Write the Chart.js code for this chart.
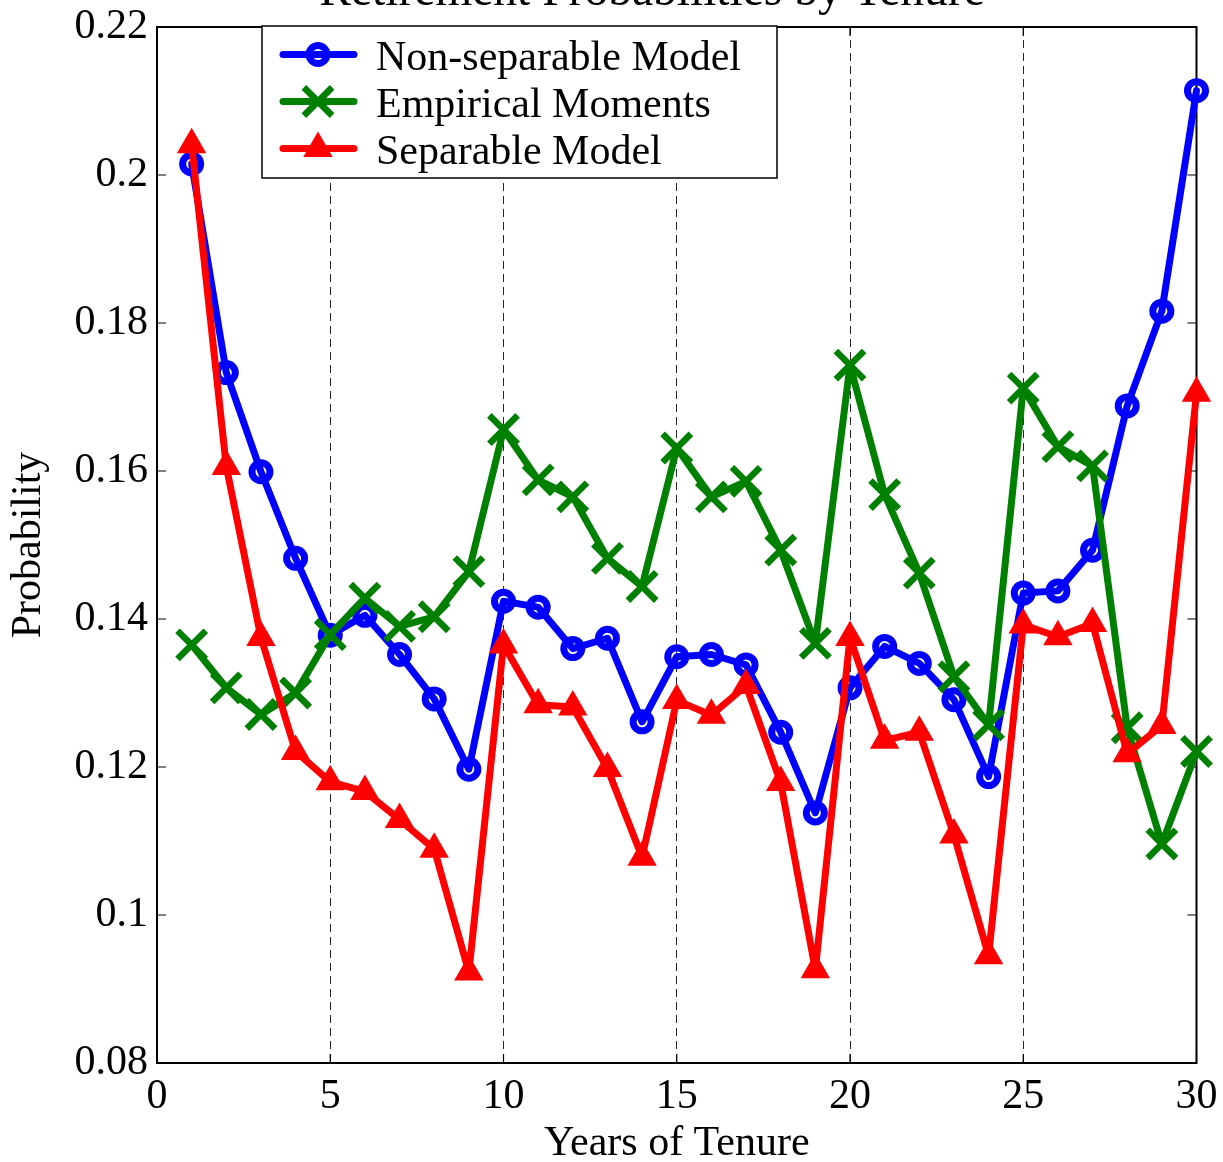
<!DOCTYPE html>
<html>
<head>
<meta charset="utf-8">
<title>Retirement Probabilities by Tenure</title>
<script src="https://cdn.jsdelivr.net/npm/chart.js@4.4.1/dist/chart.umd.min.js"></script>
<style>
  html, body { margin: 0; padding: 0; background: #fff; }
  #wrap { position: relative; width: 1223px; height: 1162px; }
</style>
</head>
<body>
<div id="wrap"><canvas id="chart"></canvas></div>
<script>
const years = [1, 2, 3, 4, 5, 6, 7, 8, 9, 10, 11, 12, 13, 14, 15,
  16, 17, 18, 19, 20, 21, 22, 23, 24, 25, 26, 27, 28, 29, 30];
const nonSeparable = [0.2015, 0.1733, 0.1599, 0.1482, 0.1378, 0.1405, 0.1352, 0.1292, 0.1197, 0.1424,
  0.1416, 0.1360, 0.1374, 0.1261, 0.1349, 0.1352, 0.1338, 0.1247, 0.1138, 0.1307,
  0.1363, 0.1340, 0.1291, 0.1187, 0.1435, 0.1438, 0.1493, 0.1688, 0.1816, 0.2114];
const empirical = [0.1365, 0.1307, 0.1271, 0.1300, 0.1379, 0.1428, 0.1390, 0.1403, 0.1464, 0.1656,
  0.1588, 0.1565, 0.1482, 0.1444, 0.1631, 0.1565, 0.1586, 0.1493, 0.1367, 0.1743,
  0.1568, 0.1462, 0.1322, 0.1257, 0.1712, 0.1633, 0.1607, 0.1253, 0.1096, 0.1221];
const separable = [0.2041, 0.1606, 0.1375, 0.1221, 0.1180, 0.1167, 0.1129, 0.1089, 0.0923, 0.1365,
  0.1284, 0.1281, 0.1198, 0.1078, 0.1290, 0.1270, 0.1310, 0.1179, 0.0926, 0.1375,
  0.1236, 0.1247, 0.1108, 0.0945, 0.1392, 0.1376, 0.1394, 0.1218, 0.1256, 0.1705];
const xTicks = [0, 5, 10, 15, 20, 25, 30];
const yTicks = [0.08, 0.1, 0.12, 0.14, 0.16, 0.18, 0.2, 0.22];

const serif = "'Liberation Serif', 'Times New Roman', serif";
const toPoints = vals => vals.map((v, i) => ({ x: years[i], y: v }));

// matlab look: closed box, ticks pointing inwards
const axesBox = {
  id: 'axesBox',
  beforeDatasetsDraw(chart) {
    const { ctx, chartArea: a, scales: { x, y } } = chart;
    ctx.save();
    ctx.strokeStyle = '#000';
    ctx.lineWidth = 1.2;
    ctx.beginPath();
    xTicks.forEach(t => {
      const px = x.getPixelForValue(t);
      ctx.moveTo(px, a.bottom); ctx.lineTo(px, a.bottom - 9);
      ctx.moveTo(px, a.top); ctx.lineTo(px, a.top + 9);
    });
    yTicks.forEach(t => {
      const py = y.getPixelForValue(t);
      ctx.moveTo(a.left, py); ctx.lineTo(a.left + 9, py);
      ctx.moveTo(a.right, py); ctx.lineTo(a.right - 9, py);
    });
    ctx.stroke();
    ctx.lineWidth = 2;
    ctx.strokeRect(a.left, a.top, a.right - a.left, a.bottom - a.top);
    ctx.restore();
  }
};

function drawMarker(ctx, ds, x, y) {
  ctx.strokeStyle = ds.borderColor;
  ctx.fillStyle = ds.borderColor;
  ctx.lineWidth = ds.pointBorderWidth;
  const r = ds.pointRadius;
  ctx.beginPath();
  if (ds.pointStyle === 'circle') {
    ctx.arc(x, y, r, 0, Math.PI * 2);
    ctx.stroke();
  } else if (ds.pointStyle === 'crossRot') {
    const d = r * Math.SQRT1_2;
    ctx.moveTo(x - d, y - d); ctx.lineTo(x + d, y + d);
    ctx.moveTo(x + d, y - d); ctx.lineTo(x - d, y + d);
    ctx.stroke();
  } else {
    ctx.moveTo(x, y - r);
    ctx.lineTo(x + r * 0.866, y + r / 2);
    ctx.lineTo(x - r * 0.866, y + r / 2);
    ctx.closePath();
    ctx.fill();
    ctx.stroke();
  }
}

const boxLegend = {
  id: 'boxLegend',
  afterDraw(chart) {
    const ctx = chart.ctx;
    const left = 262, top = 26, w = 515, h = 152;
    ctx.save();
    ctx.fillStyle = '#fff';
    ctx.fillRect(left, top, w, h);
    ctx.strokeStyle = '#000';
    ctx.lineWidth = 1.5;
    ctx.strokeRect(left, top, w, h);
    chart.data.datasets.forEach((ds, i) => {
      const rowY = 54.5 + i * 47;
      ctx.lineCap = 'round';
      ctx.strokeStyle = ds.borderColor;
      ctx.lineWidth = ds.borderWidth;
      ctx.beginPath();
      ctx.moveTo(283, rowY); ctx.lineTo(354, rowY);
      ctx.stroke();
      ctx.lineCap = 'butt';
      drawMarker(ctx, ds, 318, rowY);
      ctx.fillStyle = '#000';
      ctx.font = '42px ' + serif;
      ctx.textAlign = 'left';
      ctx.textBaseline = 'alphabetic';
      ctx.fillText(ds.label, 376, rowY + 15);
    });
    // title sits mostly above the canvas edge
    ctx.font = '47.5px ' + serif;
    ctx.textAlign = 'center';
    ctx.fillText('Retirement Probabilities by Tenure', 652, 5);
    ctx.restore();
  }
};

new Chart(document.getElementById('chart'), {
  type: 'line',
  data: {
    datasets: [{
      label: 'Non-separable Model',
      data: toPoints(nonSeparable),
      borderColor: '#0000ff',
      backgroundColor: '#0000ff',
      borderWidth: 7,
      pointStyle: 'circle',
      pointRadius: 9,
      pointBorderWidth: 7,
      pointBackgroundColor: 'rgba(0,0,0,0)',
      order: 3
    }, {
      label: 'Empirical Moments',
      data: toPoints(empirical),
      borderColor: '#008000',
      backgroundColor: '#008000',
      borderWidth: 7,
      pointStyle: 'crossRot',
      pointRadius: 20,
      pointBorderWidth: 6.5,
      order: 2
    }, {
      label: 'Separable Model',
      data: toPoints(separable),
      borderColor: '#ff0000',
      backgroundColor: '#ff0000',
      borderWidth: 7,
      pointStyle: 'triangle',
      pointRadius: 12,
      pointBorderWidth: 5,
      pointBackgroundColor: '#ff0000',
      order: 1
    }]
  },
  options: {
    responsive: true,
    maintainAspectRatio: false,
    animation: false,
    events: [],
    layout: { padding: { top: 27, right: 26, left: 0, bottom: 0 } },
    elements: {
      line: { tension: 0, borderJoinStyle: 'round', borderCapStyle: 'round' }
    },
    datasets: { line: { clip: false } },
    scales: {
      x: {
        type: 'linear',
        min: 0,
        max: 30,
        afterFit: s => { s.height = 99; s.paddingLeft = 0; s.paddingRight = 0; },
        ticks: {
          stepSize: 5,
          padding: 9,
          color: '#000',
          maxRotation: 0,
          font: { family: serif, size: 42 }
        },
        grid: {
          drawTicks: false,
          lineWidth: 1,
          color: c => (c.tick && c.tick.value > 0 && c.tick.value < 30) ? 'rgba(0,0,0,0.85)' : 'rgba(0,0,0,0)'
        },
        border: { display: false, dash: [8, 5] },
        title: {
          display: true,
          text: 'Years of Tenure',
          color: '#000',
          padding: { top: 0, bottom: -3 },
          font: { family: serif, size: 42, lineHeight: 1 }
        }
      },
      y: {
        min: 0.08,
        max: 0.22,
        afterFit: s => { s.width = 157; s.paddingTop = 0; s.paddingBottom = 0; },
        ticks: {
          stepSize: 0.02,
          padding: 9,
          color: '#000',
          font: { family: serif, size: 42 },
          callback: v => String(parseFloat(v.toFixed(2)))
        },
        grid: { display: false, drawTicks: false },
        border: { display: false },
        title: {
          display: true,
          text: 'Probability',
          color: '#000',
          padding: { top: 8, bottom: 0 },
          font: { family: serif, size: 42, lineHeight: 1 }
        }
      }
    },
    plugins: {
      legend: { display: false },
      tooltip: { enabled: false }
    }
  },
  plugins: [axesBox, boxLegend]
});
</script>
</body>
</html>
